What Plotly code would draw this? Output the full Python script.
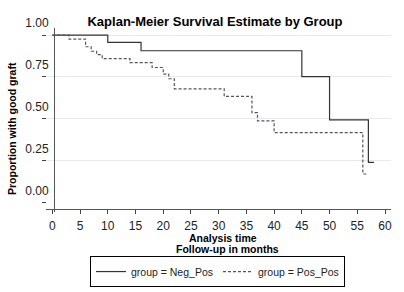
import plotly.graph_objects as go

# Kaplan-Meier step data
neg_time = [0, 10, 16, 45, 50, 57, 58]
neg_surv = [1.0, 0.956, 0.906, 0.751, 0.493, 0.240, 0.240]

pos_time = [0, 3, 6, 7, 8, 9, 14, 18, 20, 21, 22, 31, 36, 37, 40, 56, 56.8]
pos_surv = [1.0, 0.976, 0.930, 0.903, 0.883, 0.859, 0.835, 0.806, 0.767,
            0.739, 0.679, 0.634, 0.536, 0.487, 0.417, 0.170, 0.170]

x_ticks = list(range(0, 61, 5))
y_ticks = [0, 0.25, 0.5, 0.75, 1.0]
y_tick_text = ["0.00", "0.25", "0.50", "0.75", "1.00"]

title_text = "Kaplan-Meier Survival Estimate by Group"
y_title = "Proportion with good graft"
x_title_lines = ["Analysis time", "Follow-up in months"]
names = ["group = Neg_Pos", "group = Pos_Pos"]

FONT = "Liberation Sans, Arial, sans-serif"

fig = go.Figure()
fig.add_trace(go.Scatter(x=neg_time, y=neg_surv, mode="lines", name=names[0],
                         line=dict(shape="hv", color="#333333", width=1.2)))
fig.add_trace(go.Scatter(x=pos_time, y=pos_surv, mode="lines", name=names[1],
                         line=dict(shape="hv", color="#555555", width=1.2, dash="3px,2px")))

fig.update_layout(
    width=404, height=292,
    margin=dict(l=46, r=13, t=28, b=83, autoexpand=False),
    paper_bgcolor="white", plot_bgcolor="white",
    font=dict(family=FONT, size=12, color="#222222"),
    showlegend=True,
    legend=dict(orientation="h", x=0.497, xanchor="center", y=-0.26, yanchor="top",
                bordercolor="#000000", borderwidth=1, font=dict(size=10.5),
                tracegroupgap=0, itemwidth=30),
    title=dict(text="<b>" + title_text + "</b>", x=215 / 404, xanchor="center",
               y=1 - 21 / 292, yanchor="middle", font=dict(size=13, color="#000000")),
)

fig.update_xaxes(
    range=[-1.14, 61.08], tickvals=x_ticks, ticks="outside", ticklen=4,
    tickcolor="#444444", showline=True, linecolor="#555555", linewidth=1,
    showgrid=False, zeroline=False, ticklabelstandoff=2, automargin=False,
    tickfont=dict(size=12, color="#222222"),
)
fig.update_yaxes(
    range=[-0.039, 1.042], tickvals=y_ticks, ticktext=y_tick_text,
    ticks="outside", ticklen=4, tickcolor="#444444",
    showline=False, anchor="free", position=0, automargin=False,
    showgrid=True, gridcolor="#e8e8f0", gridwidth=1,
    zeroline=True, zerolinecolor="white",
    ticklabelshift=-12, ticklabelstandoff=-9,
    tickfont=dict(size=12, color="#222222"),
)

# y-axis spine, drawn slightly inside the plot area as in the reference
fig.add_shape(type="line", xref="paper", yref="paper",
              x0=8.5 / 345, x1=8.5 / 345, y0=-3 / 181, y1=1,
              line=dict(color="#555555", width=1))

# axis titles
fig.add_annotation(text="<b>" + y_title + "</b>", xref="paper", yref="paper",
                   x=-(46 - 12) / 345, y=(209 - 129) / 181, textangle=-90,
                   showarrow=False, font=dict(size=10.5, color="#000000"),
                   xanchor="center", yanchor="middle")
for i, (line_text, cx) in enumerate(zip(x_title_lines, [223, 227])):
    fig.add_annotation(text="<b>" + line_text + "</b>", xref="paper", yref="paper",
                       x=(cx - 46) / 345, y=-(238 + 11 * i - 209) / 181,
                       showarrow=False, font=dict(size=10.5, color="#000000"),
                       xanchor="center", yanchor="middle")

fig.write_html("out.html", config={"displayModeBar": False},
               post_script="document.body.style.margin='0';")
